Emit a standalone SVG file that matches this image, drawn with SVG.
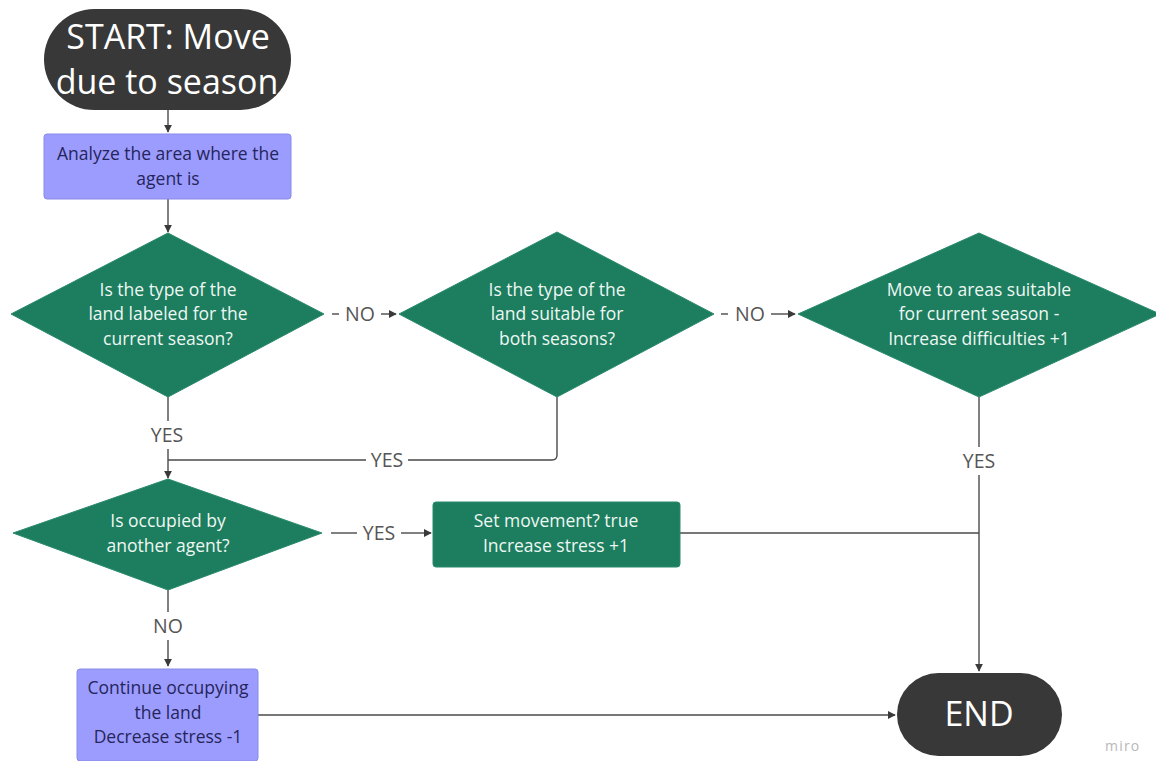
<svg xmlns="http://www.w3.org/2000/svg" width="1156" height="761" viewBox="0 0 1156 761">
  <style>
    .term { fill: #383838; }
    .term-text { fill: #ffffff; font-family: "Open Sans", "Liberation Sans", sans-serif; font-size: 34px; text-anchor: middle; }
    .proc { fill: #9c9cff; stroke: #8a8ae8; stroke-width: 1; }
    .proc-text { fill: #25255a; font-family: "Open Sans", "Liberation Sans", sans-serif; font-size: 17.5px; text-anchor: middle; }
    .dec { fill: #1c7d5f; stroke: #2a8a6c; stroke-width: 1; stroke-linejoin: round; }
    .dec-text { fill: #eef7f2; font-family: "Open Sans", "Liberation Sans", sans-serif; font-size: 17.5px; text-anchor: middle; }
    .edge { fill: none; stroke: #4a4a4a; stroke-width: 1.4; }
    .lbl { fill: #555555; font-family: "Open Sans", "Liberation Sans", sans-serif; font-size: 19.5px; text-anchor: middle; }
    .brand { fill: #b8b8b8; font-family: "Open Sans", "Liberation Sans", sans-serif; font-size: 14px; letter-spacing: 1.2px; }
  </style>
  <defs>
    <marker id="arrow" viewBox="0 0 10 10" refX="9" refY="5" markerWidth="8" markerHeight="8" markerUnits="userSpaceOnUse" orient="auto">
      <path d="M0,0 L10,5 L0,10 z" fill="#3a3a3a"/>
    </marker>
  </defs>

  <rect width="1156" height="761" fill="#ffffff"/>

  <!-- connectors -->
  <g id="connectors">
    <path class="edge" d="M168,110 V132" marker-end="url(#arrow)"/>
    <path class="edge" d="M168,199 V232" marker-end="url(#arrow)"/>
    <!-- decision 1 -> NO -> decision 2 -->
    <path class="edge" d="M332,314 H339"/>
    <path class="edge" d="M381,314 H396" marker-end="url(#arrow)"/>
    <!-- decision 2 -> NO -> decision 3 -->
    <path class="edge" d="M721,314 H728"/>
    <path class="edge" d="M771,314 H795" marker-end="url(#arrow)"/>
    <!-- decision 1 YES down -->
    <path class="edge" d="M168,397 V421"/>
    <path class="edge" d="M168,449 V478" marker-end="url(#arrow)"/>
    <!-- decision 2 YES join -->
    <path class="edge" d="M557,397 V455 Q557,460 552,460 H408"/>
    <path class="edge" d="M366,460 H168"/>
    <!-- decision 3 YES down to END -->
    <path class="edge" d="M979,397 V447"/>
    <path class="edge" d="M979,475 V671" marker-end="url(#arrow)"/>
    <!-- decision 4 YES -> set movement -->
    <path class="edge" d="M331,533 H357"/>
    <path class="edge" d="M401,533 H431" marker-end="url(#arrow)"/>
    <!-- set movement -> join END line -->
    <path class="edge" d="M680,533 H979"/>
    <!-- decision 4 NO down -->
    <path class="edge" d="M168,590 V612"/>
    <path class="edge" d="M168,640 V666" marker-end="url(#arrow)"/>
    <!-- continue -> END -->
    <path class="edge" d="M258,715 H895" marker-end="url(#arrow)"/>

    <text class="lbl" x="360" y="321">NO</text>
    <text class="lbl" x="750" y="321">NO</text>
    <text class="lbl" x="167" y="442">YES</text>
    <text class="lbl" x="387" y="467">YES</text>
    <text class="lbl" x="979" y="468">YES</text>
    <text class="lbl" x="379" y="540">YES</text>
    <text class="lbl" x="168" y="633">NO</text>
  </g>

  <g id="start">
    <rect class="term" x="44" y="9" width="247" height="101" rx="50.5"/>
    <text class="term-text" x="168" y="49">START: Move</text>
    <text class="term-text" x="167" y="94">due to season</text>
  </g>

  <g id="analyze">
    <rect class="proc" x="44" y="134" width="247" height="65" rx="3"/>
    <text class="proc-text" x="168" y="160">Analyze the area where the</text>
    <text class="proc-text" x="168" y="185">agent is</text>
  </g>

  <g id="q-labeled">
    <polygon class="dec" points="168,233 324,314 168,397 11,314"/>
    <text class="dec-text" x="168" y="296">Is the type of the</text>
    <text class="dec-text" x="168" y="320">land labeled for the</text>
    <text class="dec-text" x="168" y="345">current season?</text>
  </g>

  <g id="q-both">
    <polygon class="dec" points="557,232 714,314 557,397 399,314"/>
    <text class="dec-text" x="557" y="296">Is the type of the</text>
    <text class="dec-text" x="557" y="320">land suitable for</text>
    <text class="dec-text" x="557" y="345">both seasons?</text>
  </g>

  <g id="move-areas">
    <polygon class="dec" points="979,233 1160,314 979,397 798,314"/>
    <text class="dec-text" x="979" y="296">Move to areas suitable</text>
    <text class="dec-text" x="979" y="320">for current season -</text>
    <text class="dec-text" x="979" y="345">Increase difficulties +1</text>
  </g>

  <g id="q-occupied">
    <polygon class="dec" points="168,479 322,533 168,590 13,533"/>
    <text class="dec-text" x="168" y="527">Is occupied by</text>
    <text class="dec-text" x="168" y="552">another agent?</text>
  </g>

  <g id="set-movement">
    <rect class="dec" x="433" y="502" width="247" height="65" rx="3"/>
    <text class="dec-text" x="556" y="527">Set movement? true</text>
    <text class="dec-text" x="556" y="552">Increase stress +1</text>
  </g>

  <g id="continue">
    <rect class="proc" x="77" y="669" width="181" height="92" rx="3"/>
    <text class="proc-text" x="168" y="694">Continue occupying</text>
    <text class="proc-text" x="168" y="719">the land</text>
    <text class="proc-text" x="168" y="743">Decrease stress -1</text>
  </g>

  <g id="end">
    <rect class="term" x="897" y="673" width="165" height="83" rx="41.5"/>
    <text class="term-text" x="979" y="726">END</text>
  </g>

  <text class="brand" x="1105" y="751">miro</text>
</svg>
